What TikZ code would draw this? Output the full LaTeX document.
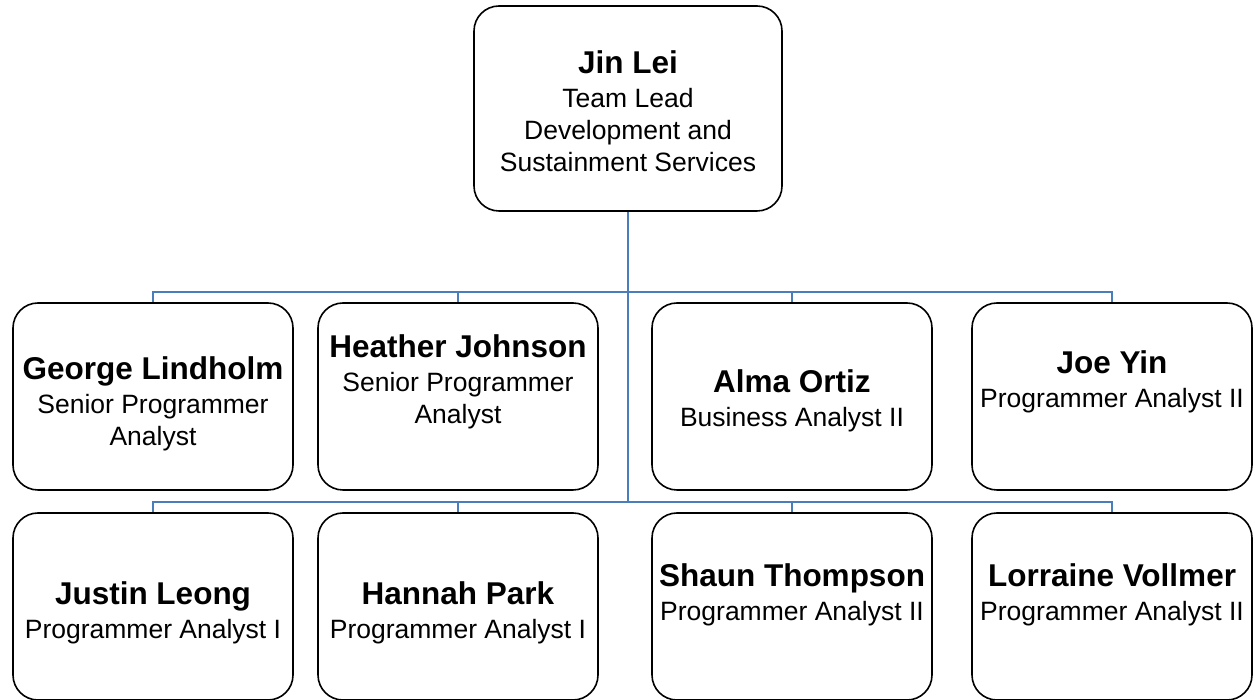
\documentclass[tikz,border=0pt]{standalone}
\usepackage{fontspec}
\setmainfont{Liberation Sans}
\usepackage{xcolor}
\usetikzlibrary{positioning}

\definecolor{linkblue}{HTML}{4A7EBB}
\newcommand{\who}[1]{{\fontsize{31.5}{32}\selectfont\bfseries #1}}

\begin{document}
\begin{tikzpicture}[
    x=1pt, y=1pt,
    card/.style={rectangle, draw, rounded corners=25pt, line width=1.6pt,
                 minimum width=280pt, minimum height=187pt, inner sep=0pt},
    leadcard/.style={card, minimum width=308pt, minimum height=205pt},
    txt/.style={align=center, inner sep=0pt, font=\fontsize{26.5}{32}\selectfont},
    link/.style={draw=linkblue, line width=1.6pt},
]
    \useasboundingbox (0,0) rectangle (1255,700);

    \node[leadcard] (lead) at (628,591.5) {};
    \node[card] (george) at (153,303.5) {};
    \node[card, right=23.4pt of george] (heather) {};
    \node[card, right=52.4pt of heather] (alma) {};
    \node[card, right=38.4pt of alma] (joe) {};
    \node[card, below=21.4pt of george] (justin) {};
    \node[card, below=21.4pt of heather] (hannah) {};
    \node[card, below=21.4pt of alma] (shaun) {};
    \node[card, below=21.4pt of joe] (lorraine) {};

    \node[txt] (lead-t) at ([yshift=-2.5pt]lead.center)
        {\who{Jin Lei}\\[2pt]Team Lead\\Development and\\Sustainment Services};
    \node[txt] (george-t) at ([yshift=-7pt]george.center)
        {\who{George Lindholm}\\[2pt]Senior Programmer\\Analyst};
    \node[txt] (heather-t) at ([yshift=14.5pt]heather.center)
        {\who{Heather Johnson}\\[2pt]Senior Programmer\\Analyst};
    \node[txt] (alma-t) at ([yshift=-4pt]alma.center)
        {\who{Alma Ortiz}\\[2pt]Business Analyst II};
    \node[txt] (joe-t) at ([yshift=14.5pt]joe.center)
        {\who{Joe Yin}\\[2pt]Programmer Analyst II};
    \node[txt] (justin-t) at ([yshift=-6pt]justin.center)
        {\who{Justin Leong}\\[2pt]Programmer Analyst I};
    \node[txt] (hannah-t) at ([yshift=-6pt]hannah.center)
        {\who{Hannah Park}\\[2pt]Programmer Analyst I};
    \node[txt] (shaun-t) at ([yshift=11.5pt]shaun.center)
        {\who{Shaun Thompson}\\[2pt]Programmer Analyst II};
    \node[txt] (lorraine-t) at ([yshift=11.5pt]lorraine.center)
        {\who{Lorraine Vollmer}\\[2pt]Programmer Analyst II};

    % bus lines
    \coordinate (bus1) at (628,408);
    \coordinate (bus2) at (628,198);
    \draw[link] (lead.south) -- (bus2);
    \foreach \p in {george,heather,alma,joe}
        \draw[link] (\p.north) |- (bus1);
    \foreach \p in {justin,hannah,shaun,lorraine}
        \draw[link] (\p.north) |- (bus2);
\end{tikzpicture}
\end{document}
